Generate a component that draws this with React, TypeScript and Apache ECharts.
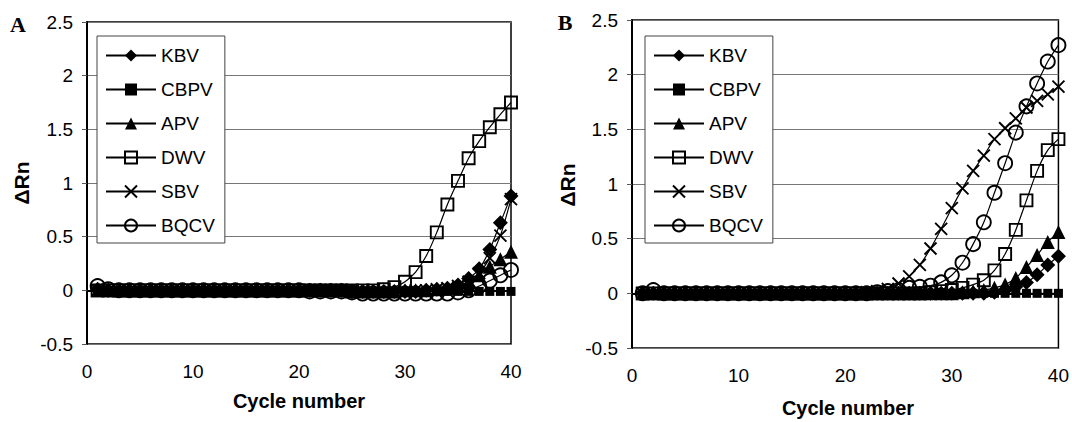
import React, { useEffect, useRef } from "react";
import * as echarts from "echarts";

const cycles = [
  1, 2, 3, 4, 5, 6, 7, 8, 9, 10, 11, 12, 13, 14, 15, 16, 17, 18, 19, 20,
  21, 22, 23, 24, 25, 26, 27, 28, 29, 30, 31, 32, 33, 34, 35, 36, 37, 38, 39, 40,
];

const seriesNames = ["KBV", "CBPV", "APV", "DWV", "SBV", "BQCV"];

// Panel A
const kbvA = [
  0.01, 0.0, 0.0, 0.0, 0.0, 0.0, 0.0, 0.0, 0.0, 0.0,
  0.0, 0.0, 0.0, 0.0, 0.0, 0.0, 0.0, 0.0, 0.0, 0.0,
  0.0, 0.0, 0.0, 0.0, -0.01, -0.01, -0.01, -0.01, -0.01, -0.01,
  -0.01, 0.0, 0.01, 0.02, 0.05, 0.11, 0.2, 0.38, 0.63, 0.88,
];
const cbpvA = [
  0.0, -0.01, -0.01, -0.01, -0.01, -0.01, -0.01, -0.01, -0.01, -0.01,
  -0.01, -0.01, -0.01, -0.01, -0.01, -0.01, -0.01, -0.01, -0.01, -0.01,
  -0.01, -0.01, -0.01, -0.01, -0.01, -0.01, -0.01, -0.01, -0.01, -0.01,
  -0.01, -0.01, -0.01, -0.01, -0.01, -0.01, -0.01, -0.01, -0.01, -0.01,
];
const apvA = [
  0.0, 0.0, 0.0, 0.0, 0.0, 0.0, 0.0, 0.0, 0.0, 0.0,
  0.0, 0.0, 0.0, 0.0, 0.0, 0.0, 0.0, 0.0, 0.0, 0.0,
  0.0, 0.0, 0.0, 0.0, -0.01, -0.01, -0.01, -0.01, -0.01, 0.0,
  0.0, 0.0, 0.01, 0.02, 0.04, 0.08, 0.14, 0.22, 0.29, 0.36,
];
const dwvA = [
  0.0, 0.0, 0.0, 0.0, 0.0, 0.0, 0.0, 0.0, 0.0, 0.0,
  0.0, 0.0, 0.0, 0.0, 0.0, 0.0, 0.0, 0.0, 0.0, 0.0,
  0.0, 0.0, 0.0, 0.0, 0.0, 0.0, 0.0, 0.01, 0.03, 0.08,
  0.17, 0.32, 0.54, 0.8, 1.02, 1.23, 1.39, 1.52, 1.64, 1.75,
];
const sbvA = [
  0.0, 0.0, 0.0, 0.0, 0.0, 0.0, 0.0, 0.0, 0.0, 0.0,
  0.0, 0.0, 0.0, 0.0, 0.0, 0.0, 0.0, 0.0, 0.0, 0.0,
  0.0, 0.0, 0.0, 0.0, 0.0, -0.01, -0.01, -0.01, -0.01, -0.01,
  0.0, 0.0, 0.01, 0.02, 0.04, 0.08, 0.16, 0.3, 0.51, 0.85,
];
const bqcvA = [
  0.04, 0.01, 0.0, 0.0, 0.0, 0.0, 0.0, 0.0, 0.0, 0.0,
  0.0, 0.0, 0.0, 0.0, 0.0, 0.0, 0.0, 0.0, 0.0, 0.0,
  -0.01, -0.01, -0.01, -0.01, -0.02, -0.03, -0.03, -0.03, -0.03, -0.03,
  -0.03, -0.03, -0.03, -0.03, -0.02, 0.0, 0.04, 0.09, 0.14, 0.19,
];

// Panel B
const kbvB = [
  0.0, 0.0, 0.0, 0.0, 0.0, 0.0, 0.0, 0.0, 0.0, 0.0,
  0.0, 0.0, 0.0, 0.0, 0.0, 0.0, 0.0, 0.0, 0.0, 0.0,
  0.0, 0.0, 0.0, 0.0, 0.0, 0.0, 0.0, 0.0, 0.0, 0.0,
  0.0, 0.0, 0.0, 0.01, 0.03, 0.06, 0.1, 0.17, 0.26, 0.34,
];
const cbpvB = [
  0.0, 0.0, 0.0, 0.0, 0.0, 0.0, 0.0, 0.0, 0.0, 0.0,
  0.0, 0.0, 0.0, 0.0, 0.0, 0.0, 0.0, 0.0, 0.0, 0.0,
  0.0, 0.0, 0.0, 0.0, 0.0, 0.0, 0.0, 0.0, 0.0, 0.0,
  0.0, 0.0, 0.0, 0.0, 0.0, 0.0, 0.0, 0.0, 0.0, 0.0,
];
const apvB = [
  0.0, 0.0, 0.0, 0.0, 0.0, 0.0, 0.0, 0.0, 0.0, 0.0,
  0.0, 0.0, 0.0, 0.0, 0.0, 0.0, 0.0, 0.0, 0.0, 0.0,
  0.0, 0.0, 0.0, 0.0, 0.0, 0.0, 0.0, 0.0, 0.0, 0.0,
  0.01, 0.02, 0.03, 0.05, 0.08, 0.14, 0.24, 0.35, 0.47, 0.56,
];
const dwvB = [
  0.0, 0.0, 0.0, 0.0, 0.0, 0.0, 0.0, 0.0, 0.0, 0.0,
  0.0, 0.0, 0.0, 0.0, 0.0, 0.0, 0.0, 0.0, 0.0, 0.0,
  0.0, 0.0, 0.0, 0.0, 0.0, 0.0, 0.0, 0.01, 0.02, 0.03,
  0.05, 0.08, 0.12, 0.21, 0.36, 0.58, 0.85, 1.12, 1.31, 1.41,
];
const sbvB = [
  0.0, 0.0, 0.0, 0.0, 0.0, 0.0, 0.0, 0.0, 0.0, 0.0,
  0.0, 0.0, 0.0, 0.0, 0.0, 0.0, 0.0, 0.0, 0.0, 0.0,
  0.0, 0.01, 0.02, 0.04, 0.09, 0.155, 0.26, 0.41, 0.59, 0.78,
  0.96, 1.12, 1.26, 1.41, 1.51, 1.6, 1.7, 1.76, 1.82, 1.89,
];
const bqcvB = [
  0.0, 0.03, 0.0, 0.0, 0.0, 0.0, 0.0, 0.0, 0.0, 0.0,
  0.0, 0.0, 0.0, 0.0, 0.0, 0.0, 0.0, 0.0, 0.0, 0.0,
  0.0, 0.0, 0.01, 0.02, 0.03, 0.05, 0.06, 0.07, 0.1, 0.165,
  0.28, 0.45, 0.65, 0.92, 1.19, 1.47, 1.71, 1.92, 2.12, 2.27,
];

const panelA = [kbvA, cbpvA, apvA, dwvA, sbvA, bqcvA];
const panelB = [kbvB, cbpvB, apvB, dwvB, sbvB, bqcvB];

const SANS = '"Liberation Sans", Arial, sans-serif';
const SERIF = '"Liberation Serif", "Times New Roman", serif';

const markerStyles: Record<string, { symbol: string; size: number; filled: boolean }> = {
  KBV: { symbol: "diamond", size: 15, filled: true },
  CBPV: { symbol: "rect", size: 9, filled: true },
  APV: { symbol: "triangle", size: 14, filled: true },
  DWV: { symbol: "rect", size: 12, filled: false },
  SBV: { symbol: "path://M0,0L10,10M10,0L0,10", size: 12, filled: false },
  BQCV: { symbol: "circle", size: 14, filled: false },
};

function buildSeries(values: number[][], gridIndex: number) {
  return seriesNames.map((name, i) => {
    const m = markerStyles[name];
    return {
      type: "line",
      name,
      xAxisIndex: gridIndex,
      yAxisIndex: gridIndex,
      data: cycles.map((c, k) => [c, values[i][k]]),
      smooth: 0.25,
      symbol: m.symbol,
      symbolSize: m.size,
      showAllSymbol: true,
      lineStyle: { color: "#000", width: 1.2 },
      itemStyle: m.filled
        ? { color: "#000", borderColor: "#000", borderWidth: 0 }
        : { color: "transparent", borderColor: "#000", borderWidth: 1.9 },
      emphasis: { disabled: true },
    };
  });
}

function xAxisFor(gridIndex: number) {
  return {
    type: "value",
    gridIndex,
    min: 0,
    max: 40,
    interval: 10,
    axisLine: { show: true, lineStyle: { color: "#000", width: 2 } },
    axisTick: { show: true, inside: false, length: 5, lineStyle: { color: "#000", width: 1 } },
    axisLabel: { color: "#000", fontSize: 19, fontFamily: SANS, margin: 18 },
    splitLine: { show: false },
  };
}

function yAxisFor(gridIndex: number) {
  return {
    type: "value",
    gridIndex,
    min: -0.5,
    max: 2.5,
    interval: 0.5,
    axisLine: { show: true, onZero: false, lineStyle: { color: "#000", width: 2 } },
    axisTick: { show: true, inside: false, length: 5, lineStyle: { color: "#555", width: 1 } },
    axisLabel: { color: "#000", fontSize: 19, fontFamily: SANS, margin: 14 },
    splitLine: { show: true, lineStyle: { color: "#777", width: 1 } },
  };
}

function legendAt(left: number) {
  return {
    left,
    top: 36,
    orient: "vertical",
    itemWidth: 50,
    itemHeight: 15,
    itemGap: 15,
    padding: [10, 10, 8, 8],
    backgroundColor: "#fff",
    borderColor: "#444",
    borderWidth: 1,
    textStyle: { color: "#000", fontSize: 19, fontFamily: SANS },
    selectedMode: false,
    data: seriesNames,
  };
}

function textEl(text: string, x: number, y: number, font: string, rotation = 0) {
  return {
    type: "text",
    x,
    y,
    rotation,
    style: { text, font, fill: "#000", align: "center", verticalAlign: "middle" },
  };
}

export default function App() {
  const ref = useRef<HTMLDivElement>(null);
  useEffect(() => {
    if (!ref.current) return;
    const chart = echarts.init(ref.current, null, { renderer: "svg" });
    const option = {
      animation: false,
      backgroundColor: "#fff",
      grid: [
        { left: 87, top: 22, width: 424, height: 322, show: true, borderColor: "#000", borderWidth: 1.5, backgroundColor: "transparent" },
        { left: 632, top: 20, width: 432, height: 328, show: true, borderColor: "#000", borderWidth: 1.5, backgroundColor: "transparent" },
      ],
      xAxis: [xAxisFor(0), xAxisFor(1)],
      yAxis: [yAxisFor(0), yAxisFor(1)],
      legend: [legendAt(97), legendAt(645)],
      graphic: [
        textEl("A", 18, 24, `bold 22px ${SERIF}`),
        textEl("B", 565, 22, `bold 22px ${SERIF}`),
        textEl("ΔRn", 21, 183, `bold 21px ${SANS}`, Math.PI / 2),
        textEl("ΔRn", 567, 185, `bold 21px ${SANS}`, Math.PI / 2),
        textEl("Cycle number", 299, 401, `bold 20px ${SANS}`),
        textEl("Cycle number", 848, 408, `bold 20px ${SANS}`),
      ],
      series: [...buildSeries(panelA, 0), ...buildSeries(panelB, 1)],
    };
    chart.setOption(option as any);
    return () => chart.dispose();
  }, []);
  return (
    <div
      ref={ref}
      style={{ position: "fixed", left: 0, top: 0, width: 1072, height: 422, background: "#fff" }}
    />
  );
}
